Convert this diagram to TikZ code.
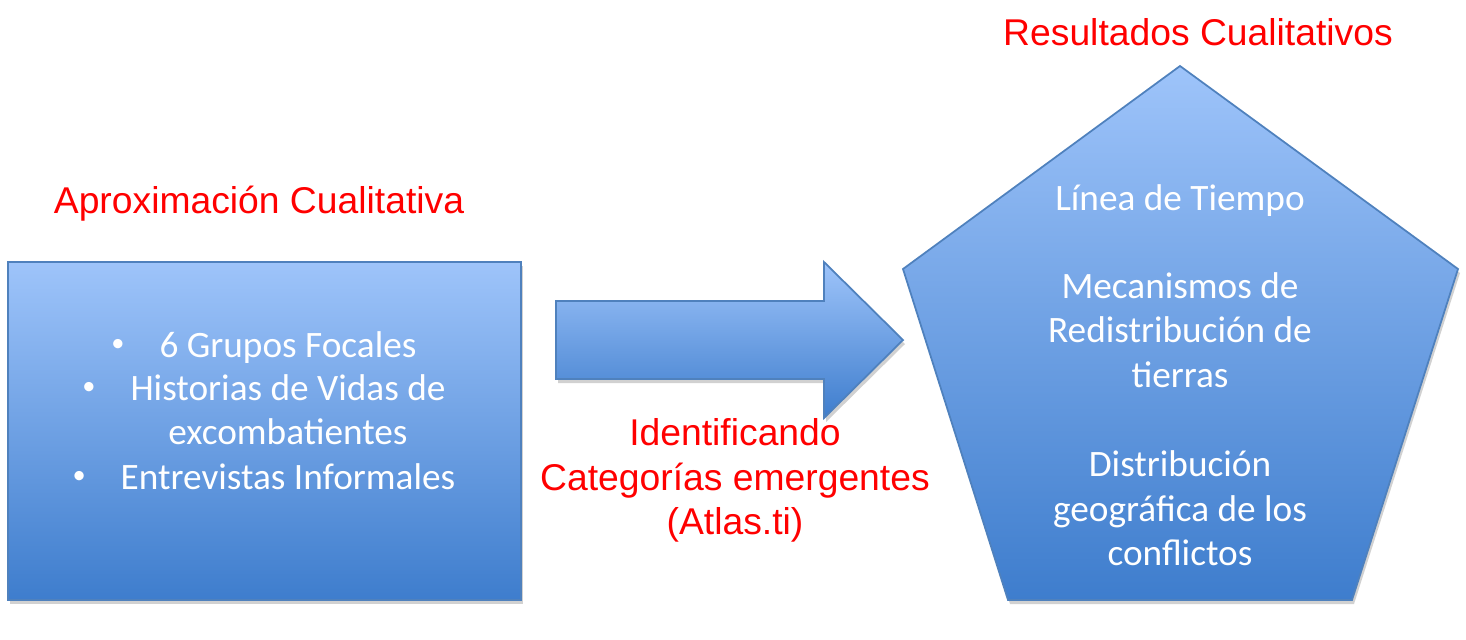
\documentclass[tikz,border=0pt]{standalone}
\usepackage{fontspec}
\setmainfont{Liberation Sans}
\newfontfamily\calibri{Carlito}
\usetikzlibrary{shadows}
\definecolor{shapetop}{RGB}{158,196,250}
\definecolor{shapebot}{RGB}{62,125,205}
\definecolor{shapeline}{RGB}{79,129,189}
\tikzset{
  blueshape/.style={draw=shapeline, line width=0.5pt, top color=shapetop, bottom color=shapebot,
    drop shadow={shadow xshift=0.02cm, shadow yshift=-0.04cm, opacity=0.3, fill=black!60}},
  redlabel/.style={text=red, font=\fontsize{10.6}{12.7}\selectfont, anchor=base, inner sep=0pt},
  whitelabel/.style={text=white, font=\calibri\fontsize{10.6}{12.7}\selectfont, anchor=base, inner sep=0pt}
}
\newcommand{\bul}{\llap{\raisebox{0.3ex}{\fontsize{7.5}{8}\selectfont\textbullet}\hspace{0.35cm}}}
\begin{document}
\begin{tikzpicture}[x=0.01cm, y=-0.01cm]
\useasboundingbox (0,0) rectangle (1466,639);
% shapes
\draw[blueshape] (8,262) rectangle (521,600);
\draw[blueshape] (556,301) -- (824,301) -- (824,262) -- (903,340) -- (824,418) -- (824,379) -- (556,379) -- cycle;
\draw[blueshape] (1180,66) -- (1458,269) -- (1352,600) -- (1008,600) -- (903,269) -- cycle;
% red titles
\node[redlabel] (aprox) at (259,213) {Aproximación Cualitativa};
\node[redlabel] (result) at (1198,45) {Resultados Cualitativos};
\node[redlabel] (ident) at (735,445) {Identificando};
\node[redlabel] (categ) at (735,490) {Categorías emergentes};
\node[redlabel] (atlas) at (735,534) {(Atlas.ti)};
% box text
\node[whitelabel] (grupos) at (288,357) {\bul 6 Grupos Focales};
\node[whitelabel] (historias) at (288,400) {\bul Historias de Vidas de};
\node[whitelabel] (excomb) at (288,444) {excombatientes};
\node[whitelabel] (entrev) at (288,489) {\bul Entrevistas Informales};
% pentagon text
\node[whitelabel] (linea) at (1180,210) {Línea de Tiempo};
\node[whitelabel] (mecan) at (1180,298) {Mecanismos de};
\node[whitelabel] (redist) at (1180,342) {Redistribución de};
\node[whitelabel] (tierras) at (1180,387) {tierras};
\node[whitelabel] (distrib) at (1180,476) {Distribución};
\node[whitelabel] (geogr) at (1180,521) {geográfica de los};
\node[whitelabel] (conf) at (1180,565) {conflictos};
\end{tikzpicture}
\end{document}
